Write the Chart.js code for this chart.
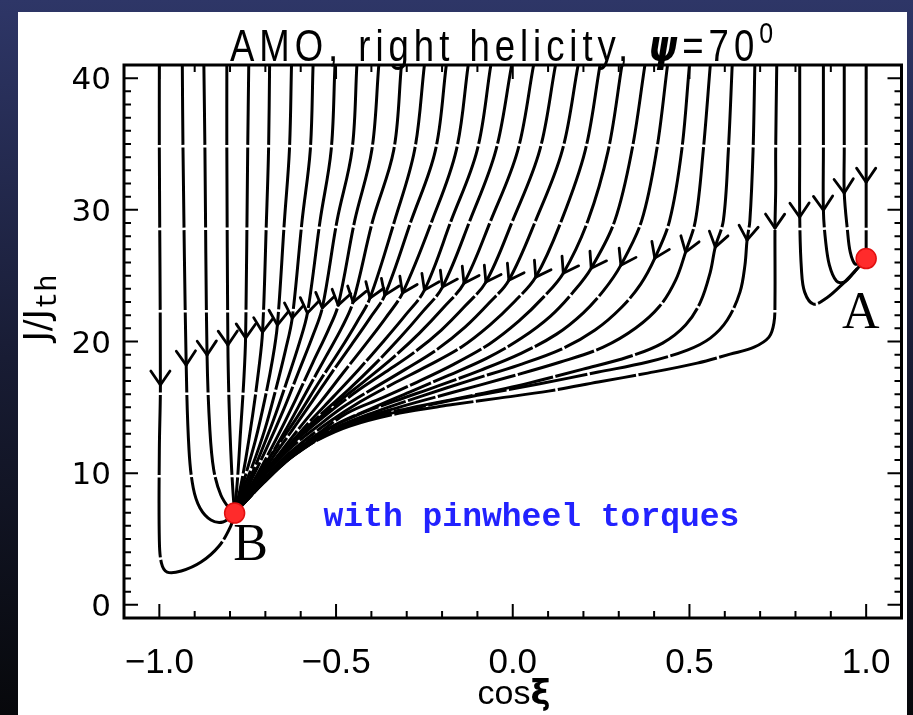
<!DOCTYPE html>
<html>
<head>
<meta charset="utf-8">
<script src="https://cdn.jsdelivr.net/npm/chart.js@4.4.1/dist/chart.umd.min.js"></script>
<style>
  html, body { margin: 0; padding: 0; background: #000; }
  canvas { display: block; }
</style>
</head>
<body>
<canvas id="chart" width="913" height="715"></canvas>
<script>
// axis ticks
const xTickLabels = [-1.0, -0.5, 0.0, 0.5, 1.0];
const yTickLabels = [0, 10, 20, 30, 40];

// fixed points
const pointA = [1.0, 26.3];
const pointB = [-0.787, 6.97];

// trajectories [cos xi, J/Jth], left to right by starting point
const traj00 = [[-1.0,41],[-1.0,34.5],[-0.997,16.69],[-1.0,11.75],[-1.0,4.92],[-0.994,3.17],[-0.978,2.49],[-0.938,2.57],[-0.882,3.25],[-0.831,4.47],[-0.798,5.98],[-0.787,6.97]];
const traj01 = [[-0.935,41],[-0.933,34.5],[-0.924,18.21],[-0.916,11.75],[-0.904,8.87],[-0.885,7.35],[-0.854,6.44],[-0.820,6.29],[-0.787,6.89]];
const traj02 = [[-0.874,41],[-0.871,34.5],[-0.865,18.97],[-0.857,13.27],[-0.846,10.24],[-0.826,8.34],[-0.801,7.27],[-0.787,6.97]];
const traj03 = [[-0.809,41],[-0.809,34.5],[-0.806,19.73],[-0.803,15.55],[-0.798,11.75],[-0.792,8.72],[-0.787,6.97]];
const traj04 = [[-0.747,41],[-0.750,34.5],[-0.756,20.26],[-0.761,17.07],[-0.770,13.27],[-0.778,9.85],[-0.787,6.97]];
const traj05 = [[-0.688,41],[-0.691,34.5],[-0.697,29.2],[-0.708,20.71],[-0.719,17.83],[-0.736,14.41],[-0.756,11.0],[-0.772,8.72],[-0.787,6.97]];
const traj06 = [[-0.626,41],[-0.632,34.5],[-0.646,29.2],[-0.666,21.25],[-0.680,18.59],[-0.702,15.55],[-0.728,12.51],[-0.756,9.85],[-0.787,6.97]];
const traj07 = [[-0.565,41],[-0.573,34.5],[-0.596,29.2],[-0.624,21.78],[-0.643,19.35],[-0.671,16.31],[-0.702,13.27],[-0.739,10.39],[-0.770,8.34],[-0.787,6.97]];
const traj08 = [[-0.503,41],[-0.514,34.5],[-0.545,29.2],[-0.581,22.16],[-0.604,19.88],[-0.638,17.07],[-0.677,14.03],[-0.719,11.15],[-0.758,8.72],[-0.787,6.97]];
const traj09 = [[-0.441,41],[-0.455,34.5],[-0.497,29.2],[-0.539,22.54],[-0.565,20.49],[-0.604,17.83],[-0.649,14.79],[-0.699,11.75],[-0.747,9.10],[-0.787,6.97]];
const traj10 = [[-0.379,41],[-0.399,34.5],[-0.447,29.2],[-0.494,22.76],[-0.522,20.87],[-0.565,18.44],[-0.615,15.55],[-0.671,12.51],[-0.730,9.55],[-0.787,6.97]];
const traj11 = [[-0.315,41],[-0.337,34.5],[-0.396,29.2],[-0.452,22.99],[-0.483,21.09],[-0.528,18.89],[-0.584,16.16],[-0.646,13.12],[-0.713,10.08],[-0.787,6.97]];
const traj12 = [[-0.250,41],[-0.278,34.5],[-0.334,29.2],[-0.404,23.3],[-0.441,21.47],[-0.489,19.35],[-0.548,16.92],[-0.612,14.18],[-0.683,11.38],[-0.742,8.95],[-0.787,6.97]];
const traj13 = [[-0.188,41],[-0.219,34.5],[-0.287,29.2],[-0.362,23.52],[-0.404,21.78],[-0.455,19.8],[-0.511,17.68],[-0.567,15.47],[-0.624,13.27],[-0.680,11.15],[-0.736,8.95],[-0.787,6.97]];
const traj14 = [[-0.126,41],[-0.160,34.5],[-0.228,29.2],[-0.312,23.68],[-0.360,21.78],[-0.416,19.8],[-0.478,17.68],[-0.542,15.47],[-0.604,13.42],[-0.663,11.38],[-0.719,9.32],[-0.758,8.03],[-0.787,6.97]];
const traj15 = [[-0.062,41],[-0.101,34.5],[-0.174,29.2],[-0.250,23.9],[-0.306,21.93],[-0.368,19.95],[-0.435,17.9],[-0.506,15.85],[-0.573,13.96],[-0.635,12.06],[-0.694,10.16],[-0.744,8.41],[-0.787,6.97]];
const traj16 = [[-0.003,41],[-0.048,34.5],[-0.121,29.2],[-0.199,24.13],[-0.256,22.23],[-0.320,20.26],[-0.390,18.28],[-0.466,16.31],[-0.539,14.56],[-0.607,12.82],[-0.669,11.15],[-0.725,9.25],[-0.767,7.73],[-0.787,6.97]];
const traj17 = [[0.059,41],[0.014,34.5],[-0.062,29.2],[-0.138,24.43],[-0.197,22.54],[-0.264,20.64],[-0.337,18.82],[-0.416,17.07],[-0.494,15.40],[-0.567,13.73],[-0.629,12.13],[-0.685,10.54],[-0.736,8.80],[-0.770,7.58],[-0.787,6.97]];
const traj18 = [[0.121,41],[0.076,34.5],[0.0,29.2],[-0.076,24.51],[-0.135,22.69],[-0.202,20.87],[-0.278,19.19],[-0.360,17.68],[-0.444,16.16],[-0.522,14.56],[-0.593,12.97],[-0.652,11.60],[-0.705,9.93],[-0.747,8.41],[-0.787,6.97]];
const traj19 = [[0.185,41],[0.140,34.5],[0.065,29.2],[-0.011,24.66],[-0.067,22.92],[-0.135,21.09],[-0.213,19.42],[-0.303,17.90],[-0.393,16.46],[-0.480,15.02],[-0.559,13.42],[-0.626,11.98],[-0.685,10.39],[-0.736,8.72],[-0.787,6.97]];
const traj20 = [[0.247,41],[0.205,34.5],[0.138,29.2],[0.065,24.89],[0.006,23.06],[-0.065,21.25],[-0.146,19.57],[-0.242,18.13],[-0.340,16.77],[-0.433,15.40],[-0.520,13.88],[-0.598,12.29],[-0.663,10.77],[-0.719,9.02],[-0.787,6.97]];
const traj21 = [[0.309,41],[0.270,34.5],[0.213,29.2],[0.143,25.19],[0.087,23.37],[0.017,21.55],[-0.067,19.80],[-0.166,18.28],[-0.270,16.92],[-0.371,15.70],[-0.469,14.56],[-0.556,12.89],[-0.629,11.38],[-0.691,9.78],[-0.742,8.26],[-0.787,6.97]];
const traj22 = [[0.374,41],[0.337,34.5],[0.289,29.2],[0.222,25.57],[0.171,23.75],[0.107,21.93],[0.025,20.26],[-0.073,18.74],[-0.180,17.45],[-0.292,16.16],[-0.404,14.87],[-0.503,13.65],[-0.587,12.13],[-0.657,10.69],[-0.719,8.95],[-0.787,6.97]];
const traj23 = [[0.438,41],[0.407,34.5],[0.365,29.2],[0.306,25.80],[0.258,23.90],[0.199,22.16],[0.124,20.56],[0.025,19.12],[-0.090,17.83],[-0.213,16.61],[-0.334,15.47],[-0.447,14.34],[-0.545,13.04],[-0.624,11.53],[-0.691,9.78],[-0.747,8.11],[-0.787,6.97]];
const traj24 = [[0.500,41],[0.478,34.5],[0.444,29.2],[0.402,26.33],[0.362,24.36],[0.306,22.54],[0.233,20.87],[0.138,19.42],[0.017,18.21],[-0.118,17.07],[-0.258,15.85],[-0.390,14.64],[-0.503,13.42],[-0.601,11.83],[-0.680,10.08],[-0.742,8.26],[-0.787,6.97]];
const traj25 = [[0.559,41],[0.539,34.5],[0.517,29.2],[0.489,26.79],[0.461,24.66],[0.416,22.69],[0.348,21.02],[0.256,19.57],[0.135,18.44],[-0.011,17.30],[-0.166,16.16],[-0.320,15.02],[-0.447,13.96],[-0.551,12.66],[-0.635,11.07],[-0.708,9.25],[-0.787,6.97]];
const traj26 = [[0.621,41],[0.610,34.5],[0.596,29.2],[0.573,27.17],[0.559,25.27],[0.531,22.99],[0.489,21.25],[0.424,19.88],[0.326,18.82],[0.199,17.90],[0.045,16.84],[-0.124,15.85],[-0.292,14.94],[-0.433,14.03],[-0.545,12.66],[-0.629,11.15],[-0.705,9.25],[-0.787,6.97]];
const traj27 = [[0.685,41],[0.680,34.5],[0.671,29.2],[0.663,27.70],[0.657,25.80],[0.643,23.75],[0.607,21.63],[0.559,20.26],[0.494,19.35],[0.382,18.44],[0.242,17.68],[0.073,16.77],[-0.096,15.93],[-0.264,15.02],[-0.419,14.03],[-0.531,12.89],[-0.615,11.45],[-0.699,9.48],[-0.787,6.97]];
const traj28 = [[0.747,41],[0.744,34.5],[0.744,31.5],[0.742,28.61],[0.742,23.14],[0.739,21.40],[0.725,20.33],[0.683,19.57],[0.615,19.04],[0.522,18.36],[0.382,17.60],[0.242,16.92],[0.101,16.23],[-0.039,15.70],[-0.180,15.17],[-0.320,14.56],[-0.461,13.58],[-0.553,12.51],[-0.601,11.68],[-0.638,11.00],[-0.713,9.25],[-0.756,7.96],[-0.787,6.97]];
const traj29 = [[0.812,41],[0.812,34.5],[0.812,29.45],[0.817,25.42],[0.826,23.75],[0.851,22.84],[0.888,23.30],[0.930,24.28],[0.966,25.27],[1.0,26.3]];
const traj30 = [[0.879,41],[0.879,34.5],[0.879,29.97],[0.885,27.70],[0.896,25.80],[0.916,24.59],[0.938,24.51],[0.966,25.27],[1.0,26.3]];
const traj31 = [[0.938,41],[0.938,34.5],[0.938,31.27],[0.947,28.46],[0.955,26.79],[0.969,25.88],[0.989,26.03],[1.0,26.3]];
const traj32 = [[1.0,41],[1.0,34.5],[1.0,32.1],[1.0,29.2],[1.0,26.3]];

const trajectories = [traj00, traj01, traj02, traj03, traj04, traj05, traj06, traj07, traj08, traj09,
  traj10, traj11, traj12, traj13, traj14, traj15, traj16, traj17, traj18, traj19, traj20, traj21,
  traj22, traj23, traj24, traj25, traj26, traj27, traj28, traj29, traj30, traj31, traj32];

// which vertex of each trajectory carries the arrow head
const arrowAt = [2, 2, 2, 2, 2, 3, 3, 3, 3, 3, 3, 3, 3, 3, 3, 3, 3, 3, 3, 3, 3, 3, 3, 3, 3, 3, 3, 3, 3, 2, 2, 2, 2];

const toXY = p => ({ x: p[0], y: p[1] });

const fondo = {
  id: 'fondo',
  beforeDraw(chart) {
    const ctx = chart.ctx;
    const g = ctx.createLinearGradient(0, 0, 0, 715);
    g.addColorStop(0, '#2e3667');
    g.addColorStop(0.5, '#181c34');
    g.addColorStop(1, '#07080b');
    ctx.save();
    ctx.fillStyle = g;
    ctx.fillRect(0, 0, 913, 715);
    ctx.fillStyle = '#fff';
    ctx.fillRect(18, 12, 889, 703);
    ctx.restore();
  }
};

const flechas = {
  id: 'flechas',
  afterDatasetsDraw(chart) {
    const ctx = chart.ctx, xs = chart.scales.x, ys = chart.scales.y;
    const pix = p => [xs.getPixelForValue(p[0]), ys.getPixelForValue(p[1])];
    ctx.save();
    ctx.strokeStyle = '#000';
    ctx.lineWidth = 2.8;
    ctx.lineCap = 'round';
    trajectories.forEach((t, k) => {
      const i = arrowAt[k];
      const [tx, ty] = pix(t[i]);
      const [ax, ay] = pix(t[i - 1]);
      const [bx, by] = pix(t[i + 1]);
      let dx = bx - ax, dy = by - ay;
      const len = Math.hypot(dx, dy);
      dx /= len; dy /= len;
      const L = 17, th = 0.6;
      [-1, 1].forEach(s => {
        const c = Math.cos(th), sn = Math.sin(th) * s;
        const rx = -(dx * c - dy * sn), ry = -(dx * sn + dy * c);
        ctx.beginPath();
        ctx.moveTo(tx, ty);
        ctx.lineTo(tx + rx * L, ty + ry * L);
        ctx.stroke();
      });
    });
    ctx.restore();
  }
};

function drawRuns(ctx, runs, x, y, width, spacing) {
  ctx.letterSpacing = (spacing || 0) + 'px';
  let total = 0;
  runs.forEach(r => { ctx.font = r.font; r.w = ctx.measureText(r.text).width; total += r.w; });
  const s = width ? width / total : 1;
  ctx.save();
  ctx.translate(x, y);
  ctx.scale(s, 1);
  let cx = 0;
  runs.forEach(r => {
    ctx.font = r.font;
    ctx.fillText(r.text, cx, r.dy || 0);
    cx += r.w;
  });
  ctx.restore();
  ctx.letterSpacing = '0px';
  return total * s;
}

const marco = {
  id: 'marco',
  afterDraw(chart) {
    const ctx = chart.ctx, xs = chart.scales.x, ys = chart.scales.y, a = chart.chartArea;
    ctx.save();
    ctx.strokeStyle = '#000';
    ctx.fillStyle = '#000';
    ctx.lineWidth = 2;
    ctx.beginPath();
    for (let i = -10; i <= 10; i++) {
      const px = xs.getPixelForValue(i / 10);
      const len = (i % 5 === 0) ? 14 : 7;
      ctx.moveTo(px, a.bottom); ctx.lineTo(px, a.bottom - len);
      ctx.moveTo(px, a.top); ctx.lineTo(px, a.top + len);
    }
    for (let j = 0; j <= 40; j++) {
      const py = ys.getPixelForValue(j);
      const len = (j % 10 === 0) ? 14 : 7;
      ctx.moveTo(a.left, py); ctx.lineTo(a.left + len, py);
      ctx.moveTo(a.right, py); ctx.lineTo(a.right - len, py);
    }
    ctx.stroke();
    ctx.lineWidth = 3;
    ctx.strokeRect(a.left, a.top, a.right - a.left, a.bottom - a.top);

    // tick labels
    ctx.textBaseline = 'alphabetic';
    ctx.textAlign = 'center';
    ctx.font = '35px "Liberation Sans", Arial, sans-serif';
    xTickLabels.forEach(v => {
      const txt = (v < 0 ? '\u2212' : '') + Math.abs(v).toFixed(1);
      ctx.fillText(txt, xs.getPixelForValue(v), 673);
    });
    ctx.textAlign = 'right';
    ctx.font = '31px "DejaVu Sans", sans-serif';
    yTickLabels.forEach(v => {
      ctx.fillText(String(v), 111, ys.getPixelForValue(v) + 11);
    });

    // title
    ctx.textAlign = 'left';
    drawRuns(ctx, [
      { text: 'AMO, right helicity, ', font: '44px "Liberation Sans", Arial, sans-serif' },
      { text: '\u03C8', font: 'italic bold 44px "DejaVu Sans", sans-serif' },
      { text: '=70', font: '44px "Liberation Sans", Arial, sans-serif' },
      { text: '0', font: '30px "Liberation Sans", Arial, sans-serif', dy: -18 }
    ], 230, 61, 548, 6);

    // x title
    ctx.font = '34px "Liberation Sans", Arial, sans-serif';
    const w1 = ctx.measureText('cos').width;
    ctx.font = 'bold 34px "DejaVu Sans", sans-serif';
    const w2 = ctx.measureText('\u03BE').width;
    const x0 = 514 - (w1 + w2) / 2;
    drawRuns(ctx, [
      { text: 'cos', font: '34px "Liberation Sans", Arial, sans-serif' },
      { text: '\u03BE', font: 'bold 34px "DejaVu Sans", sans-serif' }
    ], x0, 704);

    // y title
    ctx.save();
    ctx.translate(49, 308);
    ctx.rotate(-Math.PI / 2);
    ctx.font = '35px "DejaVu Sans", sans-serif';
    const wj = ctx.measureText('J/J').width;
    ctx.font = '29px "Liberation Mono", monospace';
    const wt = ctx.measureText('th').width;
    drawRuns(ctx, [
      { text: 'J/J', font: '35px "DejaVu Sans", sans-serif' },
      { text: 'th', font: '29px "Liberation Mono", monospace', dy: 7 }
    ], -(wj + wt) / 2, 0);
    ctx.restore();

    // annotations
    ctx.textAlign = 'center';
    ctx.fillStyle = '#000';
    ctx.font = '52px "Liberation Serif", serif';
    ctx.fillText('A', xs.getPixelForValue(0.985), ys.getPixelForValue(21.0));
    ctx.fillText('B', xs.getPixelForValue(-0.742), ys.getPixelForValue(3.4));
    ctx.fillStyle = '#2222ff';
    ctx.font = 'bold 33px "Liberation Mono", monospace';
    ctx.fillText('with pinwheel torques', xs.getPixelForValue(0.053), ys.getPixelForValue(6.0));
    ctx.restore();
  }
};

const datasets = trajectories.map(t => ({
  data: t.map(toXY),
  showLine: true,
  borderColor: '#000',
  borderWidth: 3,
  borderDash: [80, 2.5],
  borderJoinStyle: 'round',
  pointRadius: 0,
  tension: 0.35,
  fill: false
}));

datasets.push({
  data: [pointA, pointB].map(toXY),
  showLine: false,
  pointRadius: 10,
  pointBackgroundColor: '#ff2b2b',
  pointBorderColor: '#e01010',
  pointBorderWidth: 1.5,
  order: -1
});

new Chart(document.getElementById('chart'), {
  type: 'scatter',
  data: { datasets: datasets },
  options: {
    responsive: false,
    animation: false,
    devicePixelRatio: 1,
    events: [],
    layout: { padding: { left: 124, right: 8, top: 65, bottom: 97 } },
    scales: {
      x: { type: 'linear', min: -1.1, max: 1.1, display: false },
      y: { type: 'linear', min: -1, max: 41, display: false }
    },
    plugins: { legend: { display: false }, tooltip: { enabled: false } }
  },
  plugins: [fondo, flechas, marco]
});
</script>
</body>
</html>
